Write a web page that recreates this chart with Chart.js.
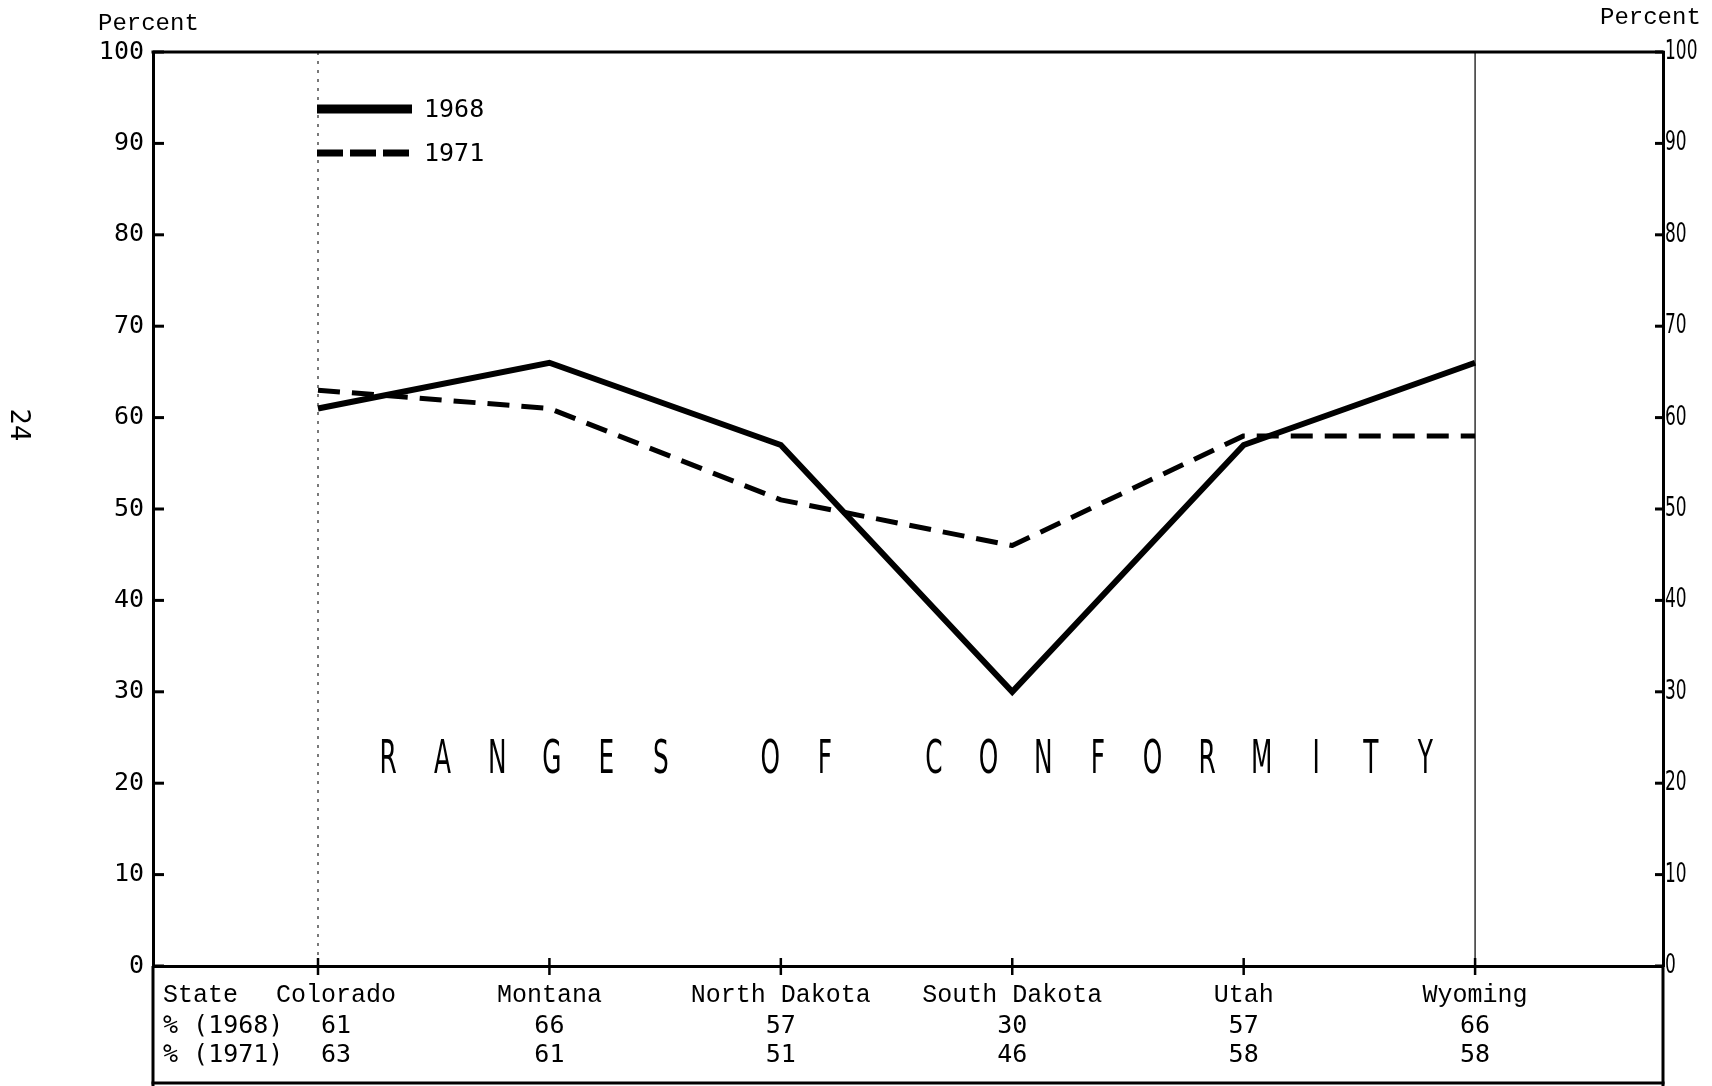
<!DOCTYPE html>
<html>
<head>
<meta charset="utf-8">
<script src="https://cdn.jsdelivr.net/npm/chart.js@4/dist/chart.umd.min.js"></script>
<style>
  html, body { margin: 0; padding: 0; background: #fff; }
  canvas { display: block; }
</style>
</head>
<body>
<canvas id="c" width="1712" height="1086"></canvas>
<script>
// ---- data ----
const states = ['Colorado', 'Montana', 'North Dakota', 'South Dakota', 'Utah', 'Wyoming'];
const pct1968 = [61, 66, 57, 30, 57, 66];
const pct1971 = [63, 61, 51, 46, 58, 58];
const seriesLabels = ['1968', '1971'];
const rowLabels = ['State', '% (1968)', '% (1971)'];
const yTickValues = [0, 10, 20, 30, 40, 50, 60, 70, 80, 90, 100];
const axisTitle = 'Percent';
const chartTitle = 'RANGES OF CONFORMITY';
const pageNumber = '24';

const MONO_SERIF = '"Liberation Mono", "Courier New", monospace';
const MONO_SANS = '"DejaVu Sans Mono", monospace';
const NARROW = '"Liberation Sans Narrow", "DejaVu Sans Condensed", "Roboto", sans-serif';

const pts = arr => arr.map((v, i) => ({ x: i, y: v }));

const decor = {
  id: 'decor',
  beforeDatasetsDraw(chart) {
    const { ctx, chartArea: a, scales: { x } } = chart;
    ctx.save();
    ctx.strokeStyle = '#222';
    const x0 = x.getPixelForValue(0), x5 = x.getPixelForValue(states.length - 1);
    ctx.lineWidth = 1.2;
    ctx.setLineDash([3, 6]);
    ctx.beginPath(); ctx.moveTo(x0, a.top); ctx.lineTo(x0, a.bottom); ctx.stroke();
    ctx.setLineDash([]);
    ctx.lineWidth = 1.4;
    ctx.beginPath(); ctx.moveTo(x5, a.top); ctx.lineTo(x5, a.bottom); ctx.stroke();
    ctx.restore();
  },
  afterDraw(chart) {
    const { ctx, chartArea: a, scales: { x, y, y2 } } = chart;
    const H = chart.height;
    ctx.save();
    ctx.strokeStyle = '#000';
    ctx.fillStyle = '#000';
    ctx.lineCap = 'butt';
    ctx.lineWidth = 3;
    ctx.beginPath(); ctx.moveTo(a.left - 1.5, a.top); ctx.lineTo(a.right + 1.5, a.top); ctx.stroke();
    ctx.beginPath(); ctx.moveTo(a.left, a.bottom); ctx.lineTo(a.left, H); ctx.stroke();
    ctx.beginPath(); ctx.moveTo(a.right, a.bottom); ctx.lineTo(a.right, H); ctx.stroke();
    ctx.beginPath(); ctx.moveTo(a.left - 1.5, H - 3); ctx.lineTo(a.right + 1.5, H - 3); ctx.stroke();
    yTickValues.forEach(v => {
      const py = y.getPixelForValue(v);
      ctx.beginPath(); ctx.moveTo(a.left, py); ctx.lineTo(a.left + 11, py); ctx.stroke();
      ctx.beginPath(); ctx.moveTo(a.right - 8, py); ctx.lineTo(a.right, py); ctx.stroke();
    });
    // right axis labels (narrow)
    ctx.font = '27px ' + NARROW;
    ctx.textAlign = 'left';
    ctx.textBaseline = 'middle';
    y2.ticks.forEach(t => {
      const py = y2.getPixelForValue(t.value);
      ctx.save();
      ctx.translate(a.right + 2, py);
      ctx.scale(0.7, 1);
      ctx.fillText(String(t.value), 0, 0);
      ctx.restore();
    });
    // x tick marks
    ctx.lineWidth = 2.5;
    states.forEach((s, i) => {
      const px = x.getPixelForValue(i);
      ctx.beginPath(); ctx.moveTo(px, a.bottom - 8); ctx.lineTo(px, a.bottom + 9); ctx.stroke();
    });
    // table
    const rowY = [a.bottom + 36, a.bottom + 67, a.bottom + 96];
    ctx.textBaseline = 'alphabetic';
    ctx.textAlign = 'left';
    ctx.font = '25px ' + MONO_SERIF;
    ctx.fillText(rowLabels[0], a.left + 10, rowY[0]);
    ctx.font = '25px ' + MONO_SANS;
    ctx.fillText(rowLabels[1], a.left + 10, rowY[1]);
    ctx.fillText(rowLabels[2], a.left + 10, rowY[2]);
    ctx.textAlign = 'center';
    states.forEach((s, i) => {
      const px = x.getPixelForValue(i) + (i === 0 ? 18 : 0);
      ctx.font = '25px ' + MONO_SERIF;
      ctx.fillText(s, px, rowY[0]);
      ctx.font = '25px ' + MONO_SANS;
      ctx.fillText(String(pct1968[i]), px, rowY[1]);
      ctx.fillText(String(pct1971[i]), px, rowY[2]);
    });
    // legend
    const ds = chart.data.datasets;
    const legY = [109, 153];
    const lx0 = 317, lx1 = 412;
    ds.forEach((d, i) => {
      ctx.lineWidth = i === 0 ? 9 : 7;
      ctx.setLineDash(i === 0 ? [] : [26, 7]);
      ctx.beginPath(); ctx.moveTo(lx0, legY[i]); ctx.lineTo(lx1, legY[i]); ctx.stroke();
      ctx.setLineDash([]);
      ctx.font = '25px ' + MONO_SANS;
      ctx.textAlign = 'left';
      ctx.textBaseline = 'middle';
      ctx.fillText(d.label, 424, legY[i] + 1);
    });
    // title letters, spread out
    ctx.font = '46px ' + NARROW;
    ctx.textBaseline = 'middle';
    ctx.textAlign = 'center';
    const tx0 = 388, step = 54.6, ty = 761;
    [...chartTitle].forEach((ch, i) => {
      if (ch === ' ') return;
      ctx.save();
      ctx.translate(tx0 + step * i, ty);
      ctx.scale(0.6, 1);
      ctx.fillText(ch, 0, 0);
      ctx.restore();
    });
    // axis titles
    ctx.font = '24px ' + MONO_SERIF;
    ctx.textAlign = 'left';
    ctx.textBaseline = 'middle';
    ctx.fillText(axisTitle, 98, 24);
    ctx.fillText(axisTitle, 1600, 18);
    // page number, rotated
    ctx.save();
    ctx.translate(18, 425);
    ctx.rotate(Math.PI / 2);
    ctx.font = '26px "DejaVu Sans", sans-serif';
    ctx.textAlign = 'center';
    ctx.textBaseline = 'middle';
    ctx.fillText(pageNumber, 0, 0);
    ctx.restore();
    ctx.restore();
  }
};

new Chart(document.getElementById('c'), {
  type: 'line',
  data: {
    datasets: [
      { label: seriesLabels[0], data: pts(pct1968), borderColor: '#000', borderWidth: 6,
        pointRadius: 0, tension: 0, borderJoinStyle: 'miter', borderCapStyle: 'butt', yAxisID: 'y' },
      { label: seriesLabels[1], data: pts(pct1971), borderColor: '#000', borderWidth: 5,
        borderDash: [22, 12], pointRadius: 0, tension: 0, borderJoinStyle: 'round', yAxisID: 'y' }
    ]
  },
  options: {
    responsive: false,
    devicePixelRatio: 1,
    animation: false,
    layout: { padding: { left: 0, right: 0, top: 52, bottom: 0 } },
    plugins: { legend: { display: false }, tooltip: { enabled: false } },
    scales: {
      x: {
        type: 'linear', position: 'bottom', min: -0.713, max: 5.812,
        grid: { display: false, drawTicks: false },
        border: { display: true, width: 3, color: '#000' },
        ticks: { display: false },
        afterFit: s => { s.height = 120; }
      },
      y: {
        position: 'left', min: 0, max: 100,
        afterBuildTicks: s => { s.ticks = yTickValues.map(v => ({ value: v })); },
        ticks: { color: '#000', padding: 9, font: { family: MONO_SANS, size: 25 } },
        grid: { display: false, drawTicks: false },
        border: { display: true, width: 3, color: '#000' },
        afterFit: s => { s.width = 153; }
      },
      y2: {
        position: 'right', min: 0, max: 100,
        afterBuildTicks: s => { s.ticks = yTickValues.map(v => ({ value: v })); },
        ticks: { display: false },
        grid: { display: false, drawTicks: false },
        border: { display: true, width: 3, color: '#000' },
        afterFit: s => { s.width = 49; }
      }
    }
  },
  plugins: [decor]
});
</script>
</body>
</html>
